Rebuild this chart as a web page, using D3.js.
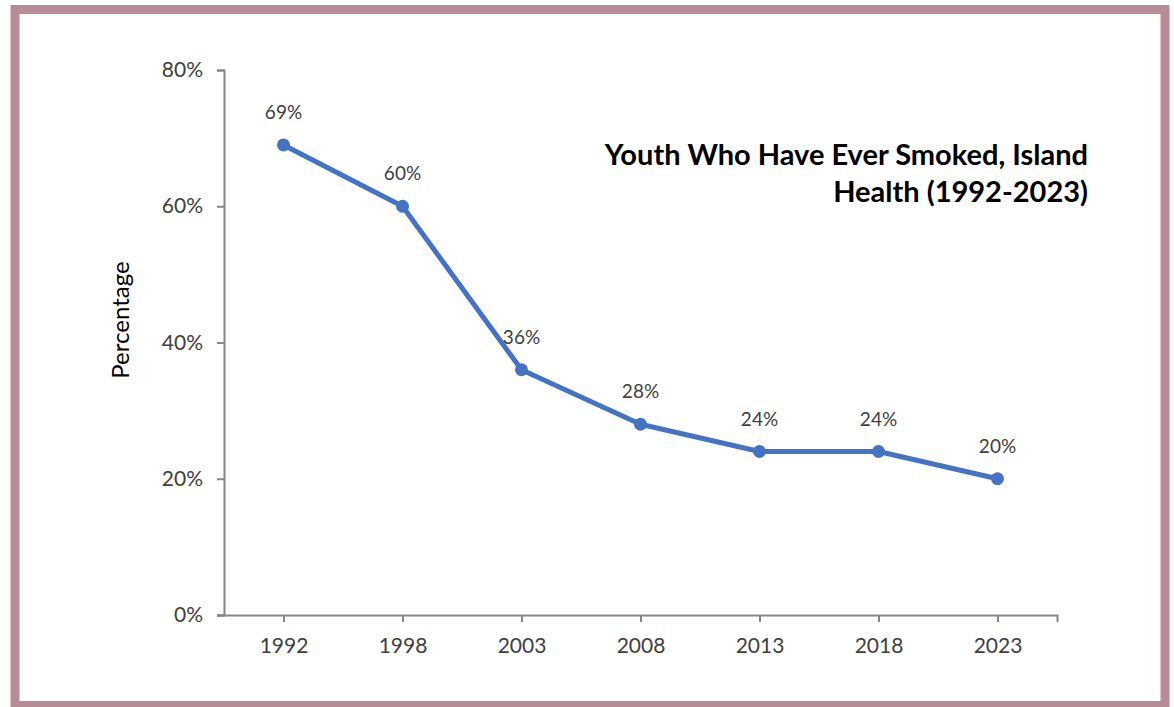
<!DOCTYPE html>
<html><head><meta charset="utf-8">
<script src="https://cdn.jsdelivr.net/npm/d3@7"></script>
<style>body{margin:0;background:#fff;} svg{display:block;}</style>
</head><body>
<svg id="chart" width="1174" height="707"></svg>
<script>
const categories = ["1992","1998","2003","2008","2013","2018","2023"];
const values = [69, 60, 36, 28, 24, 24, 20];
const yTicks = [0, 20, 40, 60, 80];
const titleLines = ["Youth Who Have Ever Smoked, Island", "Health (1992-2023)"];
const yLabel = "Percentage";

const svg = d3.select("#chart");
const font = "Lato, 'Open Sans', sans-serif";

svg.append("rect").attr("x", 15).attr("y", 9.5).attr("width", 1150).attr("height", 696)
  .attr("fill", "#fff").attr("stroke", "#b88c96").attr("stroke-width", 9);

const x = d3.scalePoint().domain(categories).range([224, 1057]).padding(0.5);
const y = d3.scaleLinear().domain([0, 80]).range([615, 70]);

const axisColor = "#868686";
// y axis
const ya = svg.append("g").attr("transform", "translate(224,0)")
  .call(d3.axisLeft(y).tickValues(yTicks).tickSize(7).tickPadding(14).tickFormat(d => d + "%"));
ya.select(".domain").attr("stroke", axisColor).attr("stroke-width", 2);
ya.selectAll(".tick line").attr("stroke", axisColor).attr("stroke-width", 2);
ya.selectAll("text").attr("font-family", font).attr("font-size", 21).attr("fill", "#404040");

// x axis
const xa = svg.append("g").attr("transform", "translate(0,615)")
  .call(d3.axisBottom(x).tickSize(7).tickSizeOuter(0).tickPadding(16));
xa.select(".domain").remove();
xa.append("path").attr("d", `M217,0.5H1057.5V7`).attr("stroke", axisColor).attr("stroke-width", 2).attr("fill", "none");
xa.selectAll(".tick line").attr("stroke", axisColor).attr("stroke-width", 2);
xa.selectAll("text").attr("font-family", font).attr("font-size", 21).attr("fill", "#404040");

// line
const line = d3.line().x((d, i) => x(categories[i])).y(d => y(d));
svg.append("path").datum(values).attr("d", line)
  .attr("fill", "none").attr("stroke", "#4472c4").attr("stroke-width", 5).attr("stroke-linejoin", "round");
svg.selectAll("circle.pt").data(values).join("circle").attr("class", "pt")
  .attr("cx", (d, i) => x(categories[i])).attr("cy", d => y(d)).attr("r", 6.5).attr("fill", "#4472c4");
svg.selectAll("text.lbl").data(values).join("text").attr("class", "lbl")
  .attr("x", (d, i) => x(categories[i])).attr("y", d => y(d) - 26)
  .attr("text-anchor", "middle").attr("font-family", font).attr("font-size", 19).attr("fill", "#404040")
  .text(d => d + "%");

// y label
svg.append("text").attr("transform", "translate(129,320) rotate(-90)")
  .attr("text-anchor", "middle").attr("font-family", font).attr("font-size", 24).attr("fill", "#000")
  .text(yLabel);

// title
svg.selectAll("text.title").data(titleLines).join("text").attr("class", "title")
  .attr("x", 1088).attr("y", (d, i) => 165 + i * 37).attr("text-anchor", "end")
  .attr("font-family", font).attr("font-weight", "bold").attr("font-size", 29).attr("fill", "#000")
  .text(d => d);
</script>
</body></html>
